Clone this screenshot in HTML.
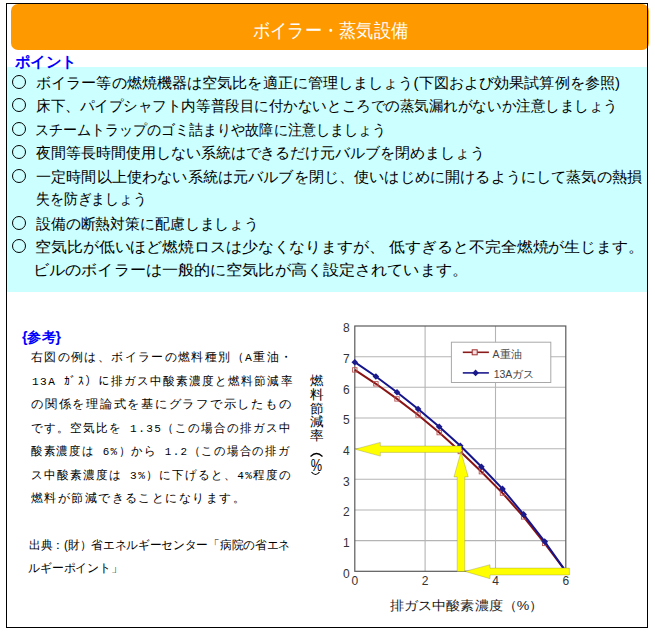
<!DOCTYPE html>
<html><head><meta charset="utf-8">
<style>
html,body{margin:0;padding:0;background:#fff;width:655px;height:634px;overflow:hidden;}
body{position:relative;font-family:"Liberation Sans",sans-serif;color:#000;}
.a{position:absolute;white-space:nowrap;transform-origin:0 0;}
#frame{position:absolute;left:6px;top:3px;width:640px;height:623px;border:1px solid #000;}
#title{position:absolute;left:11px;top:4px;width:638px;height:46px;background:#ff9900;border-radius:7px;}
#cyan{position:absolute;left:7px;top:67px;width:640px;height:225px;background:#ccffff;}
.c{position:absolute;left:12px;width:12px;height:12px;border:1px solid #000;border-radius:50%;}
.t{position:absolute;white-space:nowrap;font-size:15px;line-height:15px;transform-origin:0 0;}
.b{position:absolute;white-space:nowrap;font-family:"Liberation Mono",monospace;font-size:11.5px;line-height:11.5px;letter-spacing:1.5px;transform-origin:0 0;}
</style></head><body>
<div id="title"></div>
<div id="cyan"></div>
<div class="a" id="ttl" style="left:252.50px;top:21.00px;transform:scaleX(0.9066);color:#fff;font-size:19px;line-height:19px;">ボイラー・蒸気設備</div>
<div class="a" id="pt" style="left:15.00px;top:54.00px;transform:scaleX(1.0317);color:#0000ff;font-size:15px;line-height:15px;font-weight:bold;">ポイント</div>
<div class="c" style="top:75px"></div><div class="c" style="top:98px"></div><div class="c" style="top:122px"></div><div class="c" style="top:145px"></div><div class="c" style="top:169px"></div><div class="c" style="top:216px"></div><div class="c" style="top:239px"></div>
<div class="t" id="l1" style="left:36.00px;top:75.00px;transform:scaleX(1.0069);">ボイラー等の燃焼機器は空気比を適正に管理しましょう(下図および効果試算例を参照)</div>
<div class="t" id="l2" style="left:36.00px;top:98.00px;transform:scaleX(0.9699);">床下、パイプシャフト内等普段目に付かないところでの蒸気漏れがないか注意しましょう</div>
<div class="t" id="l3" style="left:35.06px;top:122.00px;transform:scaleX(0.9353);">スチームトラップのゴミ詰まりや故障に注意しましょう</div>
<div class="t" id="l4" style="left:36.00px;top:145.00px;transform:scaleX(0.9977);">夜間等長時間使用しない系統はできるだけ元バルブを閉めましょう</div>
<div class="t" id="l5" style="left:36.00px;top:169.00px;transform:scaleX(1.0100);">一定時間以上使わない系統は元バルブを閉じ、使いはじめに開けるようにして蒸気の熱損</div>
<div class="t" id="l5b" style="left:36.07px;top:191.00px;transform:scaleX(0.9225);">失を防ぎましょう</div>
<div class="t" id="l6" style="left:36.00px;top:216.00px;transform:scaleX(0.9910);">設備の断熱対策に配慮しましょう</div>
<div class="t" id="l7" style="left:34.94px;top:239.00px;transform:scaleX(1.0604);">空気比が低いほど燃焼ロスは少なくなりますが、 低すぎると不完全燃焼が生じます。</div>
<div class="t" id="l7b" style="left:32.85px;top:262.00px;transform:scaleX(1.0738);">ビルのボイラーは一般的に空気比が高く設定されています。</div>
<div class="b" id="b1" style="left:31.00px;top:352.00px;transform:scaleX(0.9907);">右図の例は、ボイラーの燃料種別（A重油・</div>
<div class="b" id="b2" style="left:31.99px;top:375.50px;transform:scaleX(0.9666);">13A ｶﾞｽ）に排ガス中酸素濃度と燃料節減率</div>
<div class="b" id="b3" style="left:31.00px;top:399.00px;transform:scaleX(1.0196);">の関係を理論式を基にグラフで示したもの</div>
<div class="b" id="b4" style="left:31.00px;top:422.50px;transform:scaleX(0.9628);">です。空気比を 1.35（この場合の排ガス中</div>
<div class="b" id="b5" style="left:31.00px;top:446.00px;transform:scaleX(0.9444);">酸素濃度は 6%）から 1.2（この場合の排ガ</div>
<div class="b" id="b6" style="left:30.87px;top:469.50px;transform:scaleX(0.9628);">ス中酸素濃度は 3%）に下げると、4%程度の</div>
<div class="b" id="b7" style="left:31.00px;top:493.00px;transform:scaleX(0.9952);">燃料が節減できることになります。</div>
<div class="a" id="b8" style="left:29.00px;top:539.00px;transform:scaleX(0.9738);font-size:12px;line-height:12px;">出典：(財）省エネルギーセンター「病院の省エネ</div>
<div class="a" id="b9" style="left:28.34px;top:562.00px;transform:scaleX(0.9888);font-size:12px;line-height:12px;">ルギーポイント」</div>
<div class="a" id="sk" style="left:22.40px;top:329.60px;transform:scaleX(1.0052);color:#0000ff;font-size:14px;line-height:14px;font-weight:bold;">{参考}</div>
<svg width="655" height="634" style="position:absolute;left:0;top:0">
<g stroke="#b4b4b4" stroke-width="1.1"><line x1="354.8" y1="540.6" x2="565.8" y2="540.6"/><line x1="354.8" y1="510.0" x2="565.8" y2="510.0"/><line x1="354.8" y1="479.3" x2="565.8" y2="479.3"/><line x1="354.8" y1="448.7" x2="565.8" y2="448.7"/><line x1="354.8" y1="418.0" x2="565.8" y2="418.0"/><line x1="354.8" y1="387.3" x2="565.8" y2="387.3"/><line x1="354.8" y1="356.7" x2="565.8" y2="356.7"/><line x1="425.1" y1="326.0" x2="425.1" y2="571.3"/><line x1="495.5" y1="326.0" x2="495.5" y2="571.3"/></g>
<rect x="354.8" y="326.0" width="211.0" height="245.3" fill="none" stroke="#5a5a5a" stroke-width="1.2"/>
<rect x="451.4" y="342.2" width="99.4" height="40.3" fill="#fff" stroke="#a8a8a8" stroke-width="1"/>
<line x1="462.8" y1="352.3" x2="488.9" y2="352.3" stroke="#8b1a1a" stroke-width="1.6"/>
<rect x="472.2" y="349.8" width="5" height="5" fill="#f4e0e0" stroke="#a03030" stroke-width="1"/>
<line x1="462.8" y1="372.9" x2="488.9" y2="372.9" stroke="#1a1a8c" stroke-width="1.6"/>
<path d="M475.6 369.6 L478.9 372.9 L475.6 376.2 L472.3 372.9Z" fill="#1a1a8c"/>
<text x="492.5" y="357.7" font-family="Liberation Sans" font-size="10.5" fill="#444">A<tspan>重油</tspan></text>
<text x="493.7" y="377.5" font-family="Liberation Sans" font-size="10.5" fill="#444">13Aガス</text>
<polyline points="354.8,369.9 375.9,383.8 397.0,398.9 418.1,415.0 439.2,432.6 460.3,451.5 481.4,471.7 502.5,493.1 523.6,516.9 544.7,543.4 565.8,571.3" fill="none" stroke="#8a1414" stroke-width="2"/>
<rect x="352.6" y="367.7" width="4.4" height="4.4" fill="none" stroke="#b85050" stroke-width="0.9"/>
<rect x="373.7" y="381.6" width="4.4" height="4.4" fill="none" stroke="#b85050" stroke-width="0.9"/>
<rect x="394.8" y="396.7" width="4.4" height="4.4" fill="none" stroke="#b85050" stroke-width="0.9"/>
<rect x="415.9" y="412.8" width="4.4" height="4.4" fill="none" stroke="#b85050" stroke-width="0.9"/>
<rect x="437.0" y="430.4" width="4.4" height="4.4" fill="none" stroke="#b85050" stroke-width="0.9"/>
<rect x="458.1" y="449.3" width="4.4" height="4.4" fill="none" stroke="#b85050" stroke-width="0.9"/>
<rect x="479.2" y="469.5" width="4.4" height="4.4" fill="none" stroke="#b85050" stroke-width="0.9"/>
<rect x="500.3" y="490.9" width="4.4" height="4.4" fill="none" stroke="#b85050" stroke-width="0.9"/>
<rect x="521.4" y="514.7" width="4.4" height="4.4" fill="none" stroke="#b85050" stroke-width="0.9"/>
<rect x="542.5" y="541.2" width="4.4" height="4.4" fill="none" stroke="#b85050" stroke-width="0.9"/>
<polyline points="354.8,362.2 375.9,376.5 397.0,392.2 418.1,409.0 439.2,426.8 460.3,445.7 481.4,466.8 502.5,488.9 523.6,514.4 544.7,541.5 565.8,571.3" fill="none" stroke="#14148c" stroke-width="2"/>
<path d="M354.8 358.9 L358.1 362.2 L354.8 365.5 L351.5 362.2Z" fill="#1a1a8c"/>
<path d="M375.9 373.2 L379.2 376.5 L375.9 379.8 L372.6 376.5Z" fill="#1a1a8c"/>
<path d="M397.0 388.9 L400.3 392.2 L397.0 395.5 L393.7 392.2Z" fill="#1a1a8c"/>
<path d="M418.1 405.7 L421.4 409.0 L418.1 412.3 L414.8 409.0Z" fill="#1a1a8c"/>
<path d="M439.2 423.5 L442.5 426.8 L439.2 430.1 L435.9 426.8Z" fill="#1a1a8c"/>
<path d="M460.3 442.4 L463.6 445.7 L460.3 449.0 L457.0 445.7Z" fill="#1a1a8c"/>
<path d="M481.4 463.5 L484.7 466.8 L481.4 470.1 L478.1 466.8Z" fill="#1a1a8c"/>
<path d="M502.5 485.6 L505.8 488.9 L502.5 492.2 L499.2 488.9Z" fill="#1a1a8c"/>
<path d="M523.6 511.1 L526.9 514.4 L523.6 517.7 L520.3 514.4Z" fill="#1a1a8c"/>
<path d="M544.7 538.2 L548.0 541.5 L544.7 544.8 L541.4 541.5Z" fill="#1a1a8c"/>
<path d="M355.1 449.2 L380.3 442.4 L380.3 446 L461.3 446 L461.3 452.4 L380.3 452.4 L380.3 456.1Z" fill="#ffff00" stroke="#8c8c50" stroke-opacity="0.55" stroke-width="0.7"/>
<path d="M461 451.8 L468.2 476.9 L464.7 476.9 L464.7 571.4 L457.2 571.4 L457.2 476.9 L454 476.9Z" fill="#ffff00" stroke="#8c8c50" stroke-opacity="0.55" stroke-width="0.7"/>
<path d="M465 571.4 L490 564.7 L490 568.1 L569.4 568.1 L569.4 575 L490 575 L490 578.7Z" fill="#ffff00" stroke="#8c8c50" stroke-opacity="0.55" stroke-width="0.7"/>
<g font-family="Liberation Sans" font-size="12" fill="#333"><text x="349.8" y="577.7" text-anchor="end">0</text><text x="349.8" y="547.0" text-anchor="end">1</text><text x="349.8" y="516.4" text-anchor="end">2</text><text x="349.8" y="485.7" text-anchor="end">3</text><text x="349.8" y="455.1" text-anchor="end">4</text><text x="349.8" y="424.4" text-anchor="end">5</text><text x="349.8" y="393.7" text-anchor="end">6</text><text x="349.8" y="363.1" text-anchor="end">7</text><text x="349.8" y="332.4" text-anchor="end">8</text><text x="354.8" y="585" text-anchor="middle">0</text><text x="425.1" y="585" text-anchor="middle">2</text><text x="495.5" y="585" text-anchor="middle">4</text><text x="565.8" y="585" text-anchor="middle">6</text></g>
<path d="M310.5 456.5 Q316.5 450.5 322.5 456.5" fill="none" stroke="#000" stroke-width="1.2"/>
<path d="M311.5 472 Q315.5 477 319.5 472" fill="none" stroke="#000" stroke-width="1.2"/>
<text x="310.8" y="470.8" font-family="Liberation Sans" font-size="16.5" fill="#000" textLength="11.3" lengthAdjust="spacingAndGlyphs">%</text>
</svg>
<div class="a" id="yt" style="left:310.20px;top:374.40px;transform:scaleX(1.0467);font-size:13px;line-height:13.6px;">燃<br>料<br>節<br>減<br>率</div>
<div class="a" id="xt" style="left:389.60px;top:599.40px;transform:scaleX(1.0836);font-size:13px;line-height:13px;color:#1a1a1a;">排ガス中酸素濃度（%）</div>
<div id="frame"></div>
</body></html>
